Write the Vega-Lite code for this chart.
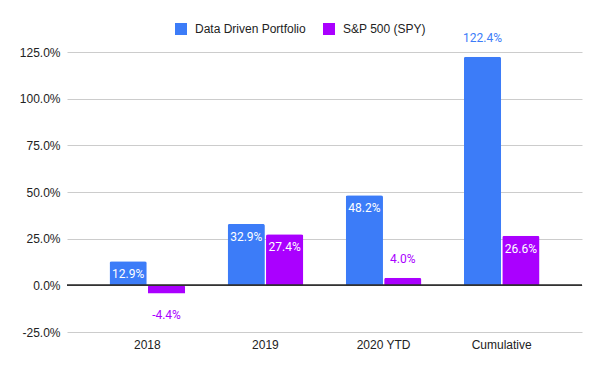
{
  "$schema": "https://vega.github.io/schema/vega-lite/v6.json",
  "width": 515,
  "height": 280,
  "autosize": {"type": "none"},
  "padding": {"left": 67, "top": 52, "right": 18, "bottom": 39},
  "background": "white",
  "config": {
    "view": {"stroke": null},
    "locale": {"number": {"decimal": ".", "thousands": ",", "grouping": [3], "currency": ["$", ""], "minus": "-"}},
    "axis": {"labelFont": "Liberation Sans", "labelFontSize": 12, "labelColor": "#222222", "domain": false, "ticks": false, "title": null}
  },
  "data": {
    "values": [
      {"period": "2018", "series": "Data Driven Portfolio", "value": 0.129},
      {"period": "2018", "series": "S&P 500 (SPY)", "value": -0.044},
      {"period": "2019", "series": "Data Driven Portfolio", "value": 0.329},
      {"period": "2019", "series": "S&P 500 (SPY)", "value": 0.274},
      {"period": "2020 YTD", "series": "Data Driven Portfolio", "value": 0.482},
      {"period": "2020 YTD", "series": "S&P 500 (SPY)", "value": 0.04},
      {"period": "Cumulative", "series": "Data Driven Portfolio", "value": 1.224},
      {"period": "Cumulative", "series": "S&P 500 (SPY)", "value": 0.266}
    ]
  },
  "encoding": {
    "x": {
      "field": "period", "type": "nominal", "sort": null,
      "scale": {"paddingInner": 0.36, "paddingOuter": 0.36},
      "axis": {"labelAngle": 0, "labelPadding": 7, "grid": false}
    },
    "xOffset": {"field": "series", "type": "nominal", "scale": {"paddingInner": 0.03}},
    "y": {
      "field": "value", "type": "quantitative",
      "scale": {"domain": [-0.25, 1.25], "nice": false, "zero": false},
      "axis": {"values": [-0.25, 0, 0.25, 0.5, 0.75, 1, 1.25], "format": ".1%", "labelPadding": 7, "gridColor": "#cccccc", "gridWidth": 1}
    }
  },
  "layer": [
    {
      "mark": {"type": "bar", "cornerRadiusEnd": 2},
      "encoding": {
        "color": {
          "field": "series", "type": "nominal",
          "scale": {"domain": ["Data Driven Portfolio", "S&P 500 (SPY)"], "range": ["#3c7cf8", "#aa00ff"]},
          "legend": {
            "title": null, "orient": "none", "direction": "horizontal",
            "legendX": 108, "legendY": -29,
            "symbolType": "square", "symbolSize": 144, "symbolStrokeWidth": 0, "symbolOpacity": 1,
            "labelFont": "Liberation Sans", "labelFontSize": 12, "labelColor": "#222222",
            "labelOffset": 8, "columnPadding": 17
          }
        }
      }
    },
    {
      "mark": {"type": "rule", "color": "#333333", "strokeWidth": 1},
      "encoding": {"y": {"datum": 0}, "x": {"value": 0}, "x2": {"value": 515}, "xOffset": null}
    },
    {
      "transform": [{"filter": "datum.value >= 0.1 && datum.value < 1.2"}],
      "mark": {"type": "text", "font": "Roboto", "fontSize": 12, "baseline": "alphabetic", "dy": 17, "color": "white"},
      "encoding": {"text": {"field": "value", "type": "quantitative", "format": ".1%"}}
    },
    {
      "transform": [{"filter": "datum.value >= 0 && (datum.value < 0.1 || datum.value >= 1.2)"}],
      "mark": {"type": "text", "font": "Roboto", "fontSize": 12, "baseline": "alphabetic", "dy": -14.5},
      "encoding": {
        "text": {"field": "value", "type": "quantitative", "format": ".1%"},
        "color": {"field": "series", "type": "nominal", "legend": null}
      }
    },
    {
      "transform": [{"filter": "datum.value < 0"}],
      "mark": {"type": "text", "font": "Roboto", "fontSize": 12, "baseline": "alphabetic", "dy": 25},
      "encoding": {
        "text": {"field": "value", "type": "quantitative", "format": ".1%"},
        "color": {"field": "series", "type": "nominal", "legend": null}
      }
    }
  ]
}
